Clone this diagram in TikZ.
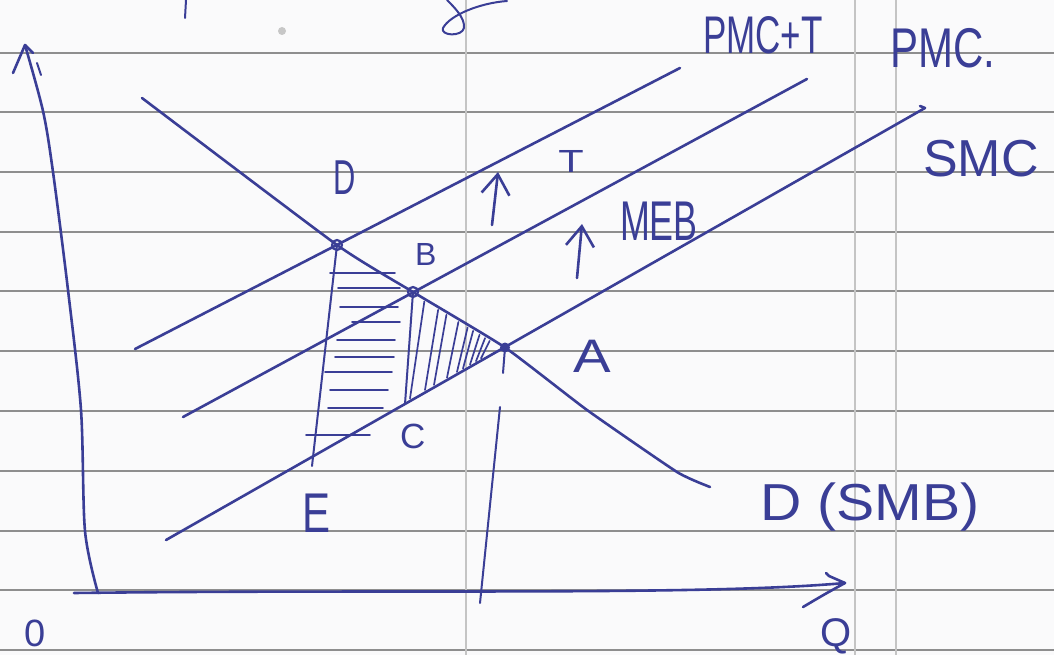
\documentclass[tikz,border=0pt]{standalone}
\usepackage{fontspec}
\setmainfont{Liberation Sans}
\usetikzlibrary{arrows.meta,calc}
\definecolor{inkc}{HTML}{3A3E96}
\definecolor{rulec}{HTML}{8E8E8E}
\definecolor{marginc}{HTML}{C4C4C4}
\definecolor{paperc}{HTML}{FAFAFB}
\newcommand{\hw}[1]{\fontsize{#1}{#1}\selectfont}
\tikzset{
  rule/.style   ={draw=rulec,line width=2pt},
  margin/.style ={draw=marginc,line width=1.4pt},
  ink/.style    ={draw=inkc,line width=2.6pt,line cap=round,line join=round},
  drop/.style   ={ink,line width=2pt},
  hatch/.style  ={draw=inkc,line width=1.7pt,line cap=round},
  dot/.style    ={draw=inkc,line width=2.2pt},
  lbl/.style    ={text=inkc,inner sep=0pt,anchor=base west},
  rise/.style   ={ink,-{Straight Barb[length=20pt,width=28pt]}},
}

\begin{document}
\begin{tikzpicture}[x=1pt,y=-1pt]
    \useasboundingbox[fill=paperc] (0,0) rectangle (1054,655);
    % ruled paper
    \foreach \y in {53,112,172,232,291,351,411,471,531,590,650}
      \draw[rule] (0,\y) -- (1054,\y);
    \foreach \x in {466,855,896}
      \draw[margin] (\x,0) -- (\x,655);
    % bits of the line above
    \draw[ink,line width=2pt] (186,0) -- (185,18);
    \draw[ink,line width=2pt] (507,1) .. controls (480,3) and (450,15) .. (443,28)
      .. controls (440,36) and (462,37) .. (464,28) .. controls (465,18) and (455,8) .. (447,0);
    \fill[black!22] (282,31) circle[radius=4];

    % points
    \coordinate (D) at (337,245);
    \coordinate (B) at (413,292);
    \coordinate (A) at (505,347.5);
    \coordinate (C) at (405,404);
    \coordinate (Dv) at (312,466);
    \coordinate (Aa) at (503,373);
    \coordinate (Ab) at (500,407);
    \coordinate (Ac) at (480,603);
    % line ends
    \coordinate (tL) at (135,349);  \coordinate (tR) at (680,68);
    \coordinate (pL) at (183,417);  \coordinate (pR) at (807,79);
    \coordinate (sL) at (166,540);  \coordinate (sR) at (925,108);
    \coordinate (yB) at (98,593);   \coordinate (yT) at (25,45);
    \coordinate (xL) at (74,593);   \coordinate (xR) at (845,583);

    % axes
    \draw[ink] plot[smooth,tension=0.5] coordinates
      {(yB) (85,531) (81,410) (68,290) (53,172) (43,111) (yT)};
    \draw[ink] (yT) -- (13,73);
    \draw[ink] (yT) -- (33,53);
    \draw[ink,line width=2pt] (37,63) -- (41,75);
    \draw[ink] (xL) .. controls (400,589) and (700,596) .. (xR);
    \draw[ink] (xR) -- (829,576) -- (826,573);
    \draw[ink] (xR) .. controls (825,594) .. (803,607);

    % cost curves
    \draw[ink] (tL) -- (tR);
    \draw[ink] (pL) -- (pR);
    \draw[ink] (sL) -- (sR) -- ++(-5,-2);
    % demand
    \draw[ink] plot[smooth,tension=0.3] coordinates
      {(142,98) (D) (B) (A) (587,410) (677,472) (710,487)};

    % shaded areas
    \foreach \y/\xa/\xb in {273/330/395,288/338/400,307/340/398,322/352/400,340/337/395,
                            357/335/394,372/325/392,390/330/388,408/328/383,435/306/370}
      \draw[hatch] (\xa,\y) -- (\xb,\y);
    \foreach \f in {.08,.23,.32,.45,.55,.61,.68,.74,.79}
      \draw[hatch] ($(B)!\f!(A)+(4,5)$) -- ($(C)!\f!(A)+(-3,-1)$);

    % drop lines
    \draw[drop] (D) -- (Dv);
    \draw[drop] (B) -- (C);
    \draw[drop] (A) -- (Aa);
    \draw[drop] (Ab) -- (Ac);

    % marks
    \draw[dot] (D) circle[radius=5];
    \draw[dot] (B) circle[radius=5];
    \fill[inkc] (A) circle[radius=5];

    % shifts
    \coordinate (Ta) at (492,225);  \coordinate (Tb) at (498,172);
    \coordinate (Ma) at (577,278);  \coordinate (Mb) at (582,224);
    \draw[rise] (Ta) -- (Tb);
    \draw[rise] (Ma) -- (Mb);

    % labels
    \node[lbl,xscale=0.66] (lpmct) at (703,54)  {\hw{53}PMC+T};
    \node[lbl,xscale=0.75] (lpmc)  at (890,68)  {\hw{56}PMC.};
    \node[lbl]             (lsmc)  at (923,177) {\hw{52}SMC};
    \node[lbl,xscale=0.64] (lmeb)  at (620,240) {\hw{56}MEB};
    \node[lbl,xscale=1.3]  (lt)    at (558,173) {\hw{32}T};
    \node[lbl,xscale=0.63] (ld)    at (333,195) {\hw{49}D};
    \node[lbl]             (lb)    at (415,265) {\hw{32}B};
    \node[lbl,xscale=1.2]  (la)    at (573,372) {\hw{47}A};
    \node[lbl]             (lc)    at (400,448) {\hw{35}C};
    \node[lbl,xscale=0.75] (le)    at (302,532) {\hw{56}E};
    \node[lbl,xscale=1.1]  (ldem)  at (760,520) {\hw{52}D (SMB)};
    \node[lbl]             (lo)    at (24,646)  {\hw{38}0};
    \node[lbl]             (lq)    at (820,646) {\hw{40}Q};
\end{tikzpicture}
\end{document}
